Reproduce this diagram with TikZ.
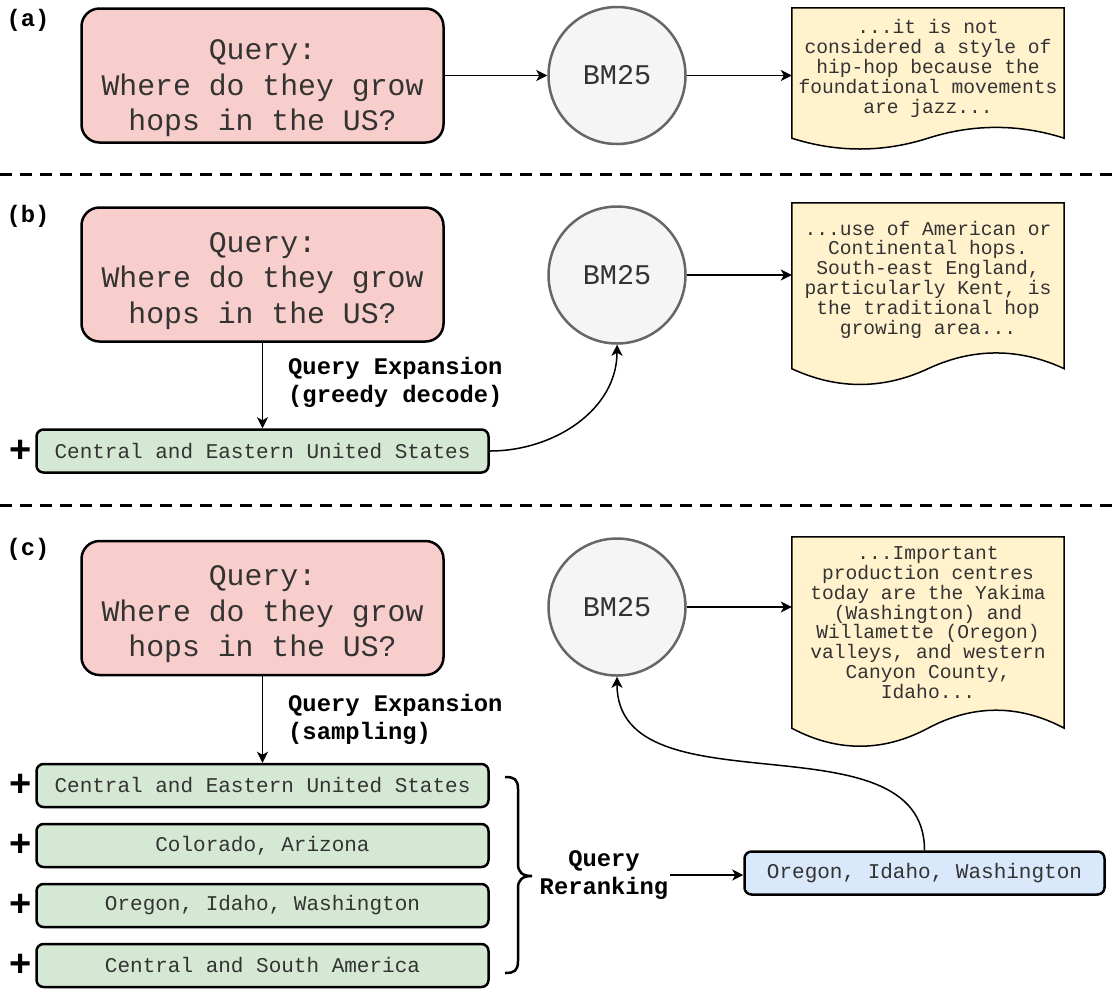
\documentclass[tikz,border=0pt]{standalone}
\usepackage{fontspec}
\usepackage{tikz}
\usetikzlibrary{arrows.meta,calc,backgrounds}
\newfontfamily\cour{Liberation Mono}
\newfontfamily\plusfont{Liberation Sans}
\definecolor{qred}{HTML}{F8CECC}
\definecolor{bmfill}{HTML}{F5F5F5}
\definecolor{bmline}{HTML}{666666}
\definecolor{docfill}{HTML}{FFF2CC}
\definecolor{expgreen}{HTML}{D5E8D4}
\definecolor{pickblue}{HTML}{DAE8FC}
\definecolor{txt}{HTML}{333333}
\newcommand{\hopsquery}[1][33pt]{\rule{0pt}{#1}Query:\\Where do they grow\\hops in the US?}
% wavy bottom of a document node: node name, drop below the node, wave height
\newcommand{\docwave}[3]{%
  \begin{scope}[on background layer]
    \draw[docline] (#1.north west) -- (#1.north east) -- ($(#1.south east)+(0,#2)$)
      .. controls +(-45,-1.2*#3) and +(45,-1.2*#3) .. ($(#1.south)+(0,#2)$)
      .. controls +(-45,1.2*#3) and +(45,1.2*#3) .. ($(#1.south west)+(0,#2)$) -- cycle;
  \end{scope}}

\begin{document}
\begin{tikzpicture}[x=1pt,y=-1pt,
    query/.style={draw,line width=2.5pt,fill=qred,rounded corners=18pt,minimum width=362pt,minimum height=134pt,align=center,text=txt,font=\cour\fontsize{29.8}{35.5}\selectfont},
    bm/.style={circle,draw=bmline,fill=bmfill,line width=2.5pt,minimum size=137pt,text=txt,font=\cour\fontsize{28.5}{34}\selectfont},
    doc/.style={minimum width=272pt,inner sep=0pt,align=center,text=txt,font=\cour\fontsize{19.6}{19.8}\selectfont},
    docline/.style={draw,fill=docfill,line width=1.5pt},
    expbox/.style={draw,line width=2.5pt,fill=expgreen,rounded corners=7pt,minimum width=452pt,minimum height=43pt,text=txt,font=\cour\fontsize{21}{25}\selectfont},
    pickbox/.style={expbox,fill=pickblue,minimum width=360pt},
    lbl/.style={inner sep=2pt,font=\cour\bfseries\fontsize{23.8}{28}\selectfont},
    plus/.style={inner sep=0pt,font=\plusfont\bfseries\fontsize{38}{38}\selectfont},
    arr/.style={-{Stealth[length=11pt,width=11pt,inset=3pt]},line width=1.5pt},
    sep/.style={line width=3pt,dash pattern=on 12pt off 8pt}]
  \useasboundingbox (0,0) rectangle (1115,989);

  % (a)
  \node[lbl] (la) at (28,20) {(a)};
  \node[query] (qa) at (262.5,75.5) {\hopsquery[46pt]};
  \node[bm] (bma) at (617,75.5) {BM25};
  \node[doc,minimum height=121pt] (doca) at (928,68.5) {...it is not\\considered a style of\\hip-hop because the\\foundational movements\\are jazz...};
  \docwave{doca}{9}{12}
  \draw[arr] (qa) -- (bma);
  \draw[arr] (bma) -- (bma.east -| doca.west);

  \draw[sep] (0,174) -- (1115,174);

  % (b)
  \node[lbl] (lb) at (28,216) {(b)};
  \node[query] (qb) at (262.5,274.5) {\hopsquery};
  \node[bm] (bmb) at (617,275) {BM25};
  \node[doc,minimum height=153pt] (docb) at (928,279.5) {...use of American or\\Continental hops.\\South-east England,\\particularly Kent, is\\the traditional hop\\growing area...};
  \docwave{docb}{12.5}{17.5}
  \node[expbox] (eb) at (262.5,451) {Central and Eastern United States};
  \node[plus] (pb) at (21,451) {+};
  \node[lbl,anchor=west,align=left] (xb) at (286,382) {Query Expansion\\(greedy decode)};
  \draw[arr] (bmb) -- (bmb.east -| docb.west);
  \draw[arr] (qb) -- (eb);
  \draw[arr] (eb.east) to[out=0,in=-90] (bmb.south);

  \draw[sep] (0,505) -- (1115,505);

  % (c)
  \node[lbl] (lc) at (28,549) {(c)};
  \node[query] (qc) at (262.5,608) {\hopsquery};
  \node[bm] (bmc) at (617,607) {BM25};
  \node[doc,minimum height=171pt] (docc) at (928,622.5) {...Important\\production centres\\today are the Yakima\\(Washington) and\\Willamette (Oregon)\\valleys, and western\\Canyon County,\\Idaho...};
  \docwave{docc}{20}{20}
  \node[expbox] (ec1) at (262.5,785.5) {Central and Eastern United States};
  \node[expbox] (ec2) at (262.5,845.5) {Colorado, Arizona};
  \node[expbox] (ec3) at (262.5,905.5) {Oregon, Idaho, Washington};
  \node[expbox] (ec4) at (262.5,965.5) {Central and South America};
  \foreach \y/\n in {785.5/1,845.5/2,905.5/3,965.5/4}
    \node[plus] (pc\n) at (21,\y) {+};
  \node[lbl,anchor=west,align=left] (xc) at (286,719.5) {Query Expansion\\(sampling)};
  \node[lbl,align=center] (rr) at (604,875) {Query\\Reranking};
  \node[pickbox] (pick) at (924.5,873) {Oregon, Idaho, Washington};
  \draw[line width=2.5pt] (505,777) .. controls (514,777) and (518,779) .. (518,789) -- (518,864)
    .. controls (518,872) and (522,876) .. (532,876) .. controls (522,876) and (518,880) .. (518,888)
    -- (518,961) .. controls (518,971) and (514,973) .. (505,973);
  \draw[arr] (bmc) -- (bmc.east -| docc.west);
  \draw[arr] (qc) -- (ec1);
  \draw[arr] (rr.east) -- (rr.east -| pick.west);
  \draw[arr] (pick.north) to[out=90,in=-90] (bmc.south);
\end{tikzpicture}
\end{document}
